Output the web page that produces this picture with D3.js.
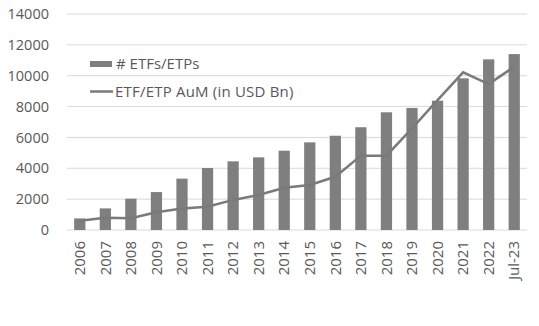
<!DOCTYPE html>
<html><head><meta charset="utf-8">
<script src="https://cdn.jsdelivr.net/npm/d3@7"></script>
<style>body{margin:0;background:#fff;}svg{display:block;}</style>
</head><body>
<svg id="c" width="539" height="326"></svg>
<script>
const categories = ["2006","2007","2008","2009","2010","2011","2012","2013","2014","2015","2016","2017","2018","2019","2020","2021","2022","Jul-23"];
const etfCount = [750,1400,2030,2460,3330,4020,4450,4710,5140,5680,6110,6660,7630,7910,8380,9830,11060,11400];
const aum = [600,790,760,1150,1400,1510,1950,2270,2740,2920,3450,4820,4820,6590,8420,10220,9460,10580];
const yTicks = [0,2000,4000,6000,8000,10000,12000,14000];

const svg = d3.select("#c");
const m = {l:67, r:12, t:14, b:96};
const W = 539, H = 326;
const x = d3.scaleBand().domain(categories).range([m.l, W - m.r]).paddingInner(0.56).paddingOuter(0.28);
const y = d3.scaleLinear().domain([0,14000]).range([H - m.b, m.t]);
const font = "'Open Sans', Roboto, sans-serif";
const tc = "#595959";

// gridlines
svg.append("g").selectAll("line").data(yTicks).join("line")
  .attr("x1", m.l).attr("x2", W - m.r)
  .attr("y1", d => y(d)).attr("y2", d => y(d))
  .attr("stroke", "#d9d9d9").attr("stroke-width", 1);

// y axis labels
const ya = svg.append("g").attr("transform", `translate(${m.l - 15},0)`)
  .call(d3.axisLeft(y).tickValues(yTicks).tickSize(0).tickFormat(d3.format("d")));
ya.select(".domain").remove();
ya.selectAll("text").attr("fill", tc).style("font-family", font).style("font-size", "14.5px");

// bars
svg.append("g").selectAll("rect").data(categories).join("rect")
  .attr("x", d => x(d)).attr("width", x.bandwidth())
  .attr("y", (d,i) => y(etfCount[i])).attr("height", (d,i) => y(0) - y(etfCount[i]))
  .attr("fill", "#7f7f7f");

// line
const line = d3.line().x((d,i) => x(categories[i]) + x.bandwidth()/2).y(d => y(d));
svg.append("path").datum(aum).attr("d", line)
  .attr("fill", "none").attr("stroke", "#7a7a7a").attr("stroke-width", 2.5);

// x axis labels
const xa = svg.append("g").attr("transform", `translate(0,${y(0)})`)
  .call(d3.axisBottom(x).tickSize(0));
xa.select(".domain").remove();
xa.selectAll("text").attr("fill", tc).style("font-family", font).style("font-size", "15px")
  .attr("transform", "rotate(-90)").attr("text-anchor", "end")
  .attr("x", -11).attr("y", 0).attr("dy", "0.35em");

// legend
const lg = svg.append("g");
lg.append("rect").attr("x", 90).attr("y", 61).attr("width", 22).attr("height", 6).attr("fill", "#7f7f7f");
lg.append("text").attr("x", 116).attr("y", 68.5).text("# ETFs/ETPs")
  .attr("fill", tc).style("font-family", font).style("font-size", "15px");
lg.append("line").attr("x1", 90).attr("x2", 113).attr("y1", 91.5).attr("y2", 91.5)
  .attr("stroke", "#7a7a7a").attr("stroke-width", 2.5);
lg.append("text").attr("x", 115).attr("y", 96.5).text("ETF/ETP AuM (in USD Bn)")
  .attr("fill", tc).style("font-family", font).style("font-size", "15px").style("letter-spacing", "0.2px");
</script>
</body></html>
